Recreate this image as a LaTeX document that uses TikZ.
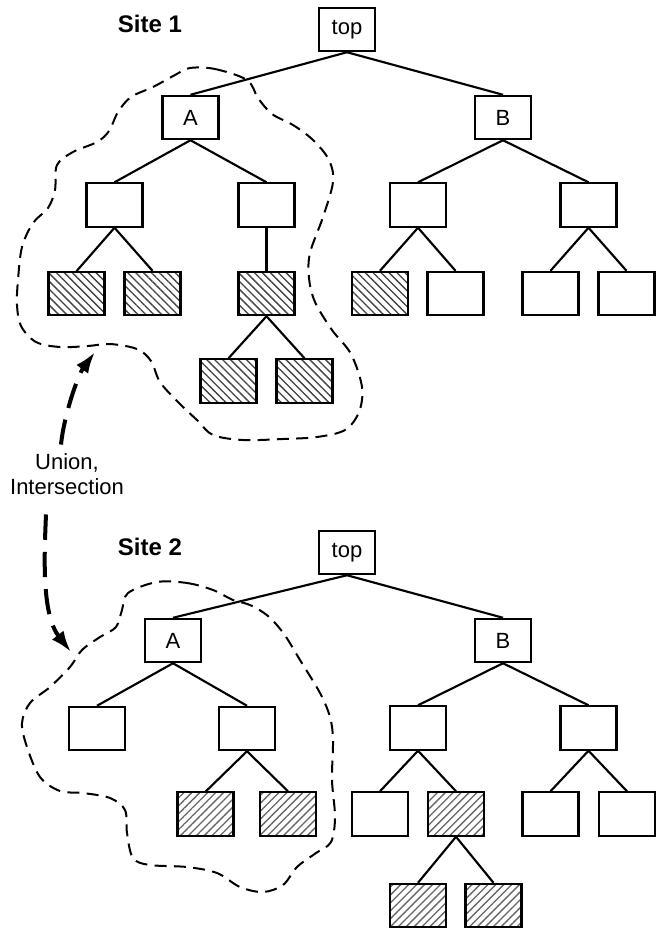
\documentclass[tikz,border=0pt]{standalone}
\usepackage{fontspec}
\setmainfont{Liberation Sans}
\usetikzlibrary{patterns.meta,arrows.meta}

\tikzset{
  box/.style={draw, line width=1.6pt, minimum width=42pt, minimum height=32.5pt,
    inner sep=0pt, font=\fontsize{16.5}{19}\selectfont},
  hatchdown/.style={box, pattern={Lines[angle=-45,distance=4.2pt,line width=1pt]},
    pattern color=black!75},
  hatchup/.style={box, pattern={Lines[angle=45,distance=4.2pt,line width=1pt]},
    pattern color=black!60},
  edge/.style={line width=1.6pt},
  region/.style={line width=1.5pt, dash pattern=on 9pt off 5.5pt},
  flow/.style={line width=3pt, dash pattern=on 19pt off 9pt,
    -{Latex[length=16pt,width=11pt]}},
  sitelabel/.style={font=\fontsize{18}{21}\selectfont\bfseries},
  oplabel/.style={font=\fontsize{16.5}{19}\selectfont, align=center}
}

\begin{document}
\begin{tikzpicture}[x=0.75pt, y=-0.75pt]
\useasboundingbox (0,0) rectangle (659,929);

% ---------- Site 1 ----------
\node[sitelabel] (s1) at (150,24) {Site 1};
\node[box] (t1) at (347,29.5) {top};
\node[box] (a1) at (190.5,117.5) {A};
\node[box] (b1) at (503,117.5) {B};
\node[box] (a1l) at (114.5,205) {};
\node[box] (a1r) at (266.5,205) {};
\node[box] (b1l) at (418,205) {};
\node[box] (b1r) at (588.5,205) {};
\node[hatchdown] (p1) at (76.5,293.5) {};
\node[hatchdown] (p2) at (152.5,293.5) {};
\node[hatchdown] (p3) at (266.5,293.5) {};
\node[hatchdown] (p4) at (380,293.5) {};
\node[box] (p5) at (455.5,293.5) {};
\node[box] (p6) at (550.5,293.5) {};
\node[box] (p7) at (626.5,293.5) {};
\node[hatchdown] (q1) at (228.5,381) {};
\node[hatchdown] (q2) at (304.5,381) {};

\draw[edge] (t1.south) -- (a1.north);
\draw[edge] (t1.south) -- (b1.north);
\draw[edge] (a1.south) -- (a1l.north);
\draw[edge] (a1.south) -- (a1r.north);
\draw[edge] (b1.south) -- (b1l.north);
\draw[edge] (b1.south) -- (b1r.north);
\draw[edge] (a1l.south) -- (p1.north);
\draw[edge] (a1l.south) -- (p2.north);
\draw[edge] (a1r.south) -- (p3.north);
\draw[edge] (b1l.south) -- (p4.north);
\draw[edge] (b1l.south) -- (p5.north);
\draw[edge] (b1r.south) -- (p6.north);
\draw[edge] (b1r.south) -- (p7.north);
\draw[edge] (p3.south) -- (q1.north);
\draw[edge] (p3.south) -- (q2.north);

% region held at site 1
\draw[region] plot[smooth cycle, tension=0.55] coordinates {
  (190,68) (215,69) (247,80) (258,98) (272,114) (293,125) (313,140) (329,160)
  (333,182) (323,217) (310,253) (309,278) (315,302) (332,330) (351,354)
  (362,387) (359,412) (345,430) (317,437) (283,439) (243,440) (213,435)
  (198,421) (178,402) (160,382) (151,361) (137,349) (110,344) (88,346)
  (60,347) (36,342) (21,326) (17,305) (18,280) (22,247) (33,223) (48,208)
  (55,190) (57,165) (73,152) (97,142) (109,131) (118,112) (131,97)
  (153,87) (175,75)};

% ---------- transfer between sites ----------
\node[oplabel] (op) at (67,474) {Union,\\Intersection};
\coordinate (u1) at (95,352);
\coordinate (u2) at (71,652);
\draw[flow] (op.north) ++(-6,-4) .. controls (64,415) and (78,375) .. (u1);
\draw[flow] (op.south) ++(-21,15) .. controls (44,560) and (42,615) .. (u2);

% ---------- Site 2 ----------
\node[sitelabel] (s2) at (150,547) {Site 2};
\node[box] (t2) at (347,552.5) {top};
\node[box] (a2) at (173,640.5) {A};
\node[box] (b2) at (503,640.5) {B};
\node[box] (a2l) at (97,728.5) {};
\node[box] (a2r) at (247,728.5) {};
\node[box] (b2l) at (418,728) {};
\node[box] (b2r) at (588.5,728) {};
\node[hatchup] (r1) at (205.5,814) {};
\node[hatchup] (r2) at (288,814) {};
\node[box] (r3) at (380,814) {};
\node[hatchup] (r4) at (456,814) {};
\node[box] (r5) at (550.5,814) {};
\node[box] (r6) at (627,814) {};
\node[hatchup] (w1) at (418,905.5) {};
\node[hatchup] (w2) at (493.5,905.5) {};

\draw[edge] (t2.south) -- (a2.north);
\draw[edge] (t2.south) -- (b2.north);
\draw[edge] (a2.south) -- (a2l.north);
\draw[edge] (a2.south) -- (a2r.north);
\draw[edge] (b2.south) -- (b2l.north);
\draw[edge] (b2.south) -- (b2r.north);
\draw[edge] (a2r.south) -- (r1.north);
\draw[edge] (a2r.south) -- (r2.north);
\draw[edge] (b2l.south) -- (r3.north);
\draw[edge] (b2l.south) -- (r4.north);
\draw[edge] (b2r.south) -- (r5.north);
\draw[edge] (b2r.south) -- (r6.north);
\draw[edge] (r4.south) -- (w1.north);
\draw[edge] (r4.south) -- (w2.north);

% region held at site 2
\draw[region] plot[smooth cycle, tension=0.55] coordinates {
  (157,582) (187,583) (213,590) (233,600) (250,605) (268,616) (284,634)
  (300,660) (320,693) (330,717) (333,740) (332,780) (335,817) (331,842)
  (316,853) (297,867) (283,885) (263,892) (240,887) (217,873) (187,867)
  (150,865) (133,858) (127,833) (125,810) (110,798) (83,793) (60,791)
  (40,777) (27,747) (22,723) (30,703) (50,687) (70,667) (82,650) (100,637)
  (116,627) (122,610) (128,593)};
\end{tikzpicture}
\end{document}
